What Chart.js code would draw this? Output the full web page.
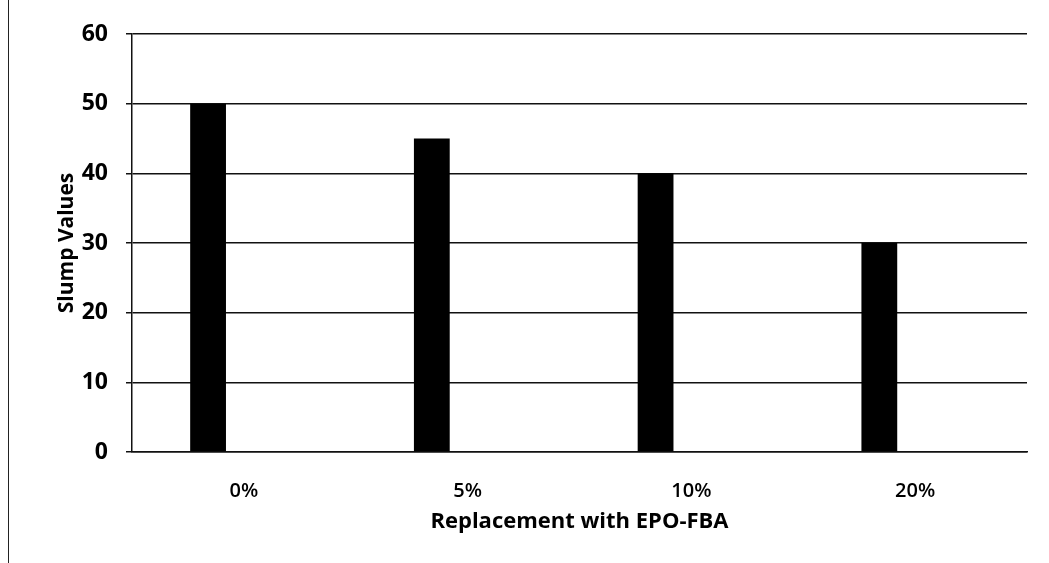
<!DOCTYPE html>
<html>
<head>
<meta charset="utf-8">
<script src="https://cdn.jsdelivr.net/npm/chart.js@4"></script>
<style>
    html, body { margin: 0; padding: 0; background: #fff; }
    #wrap { position: relative; width: 1049px; height: 563px; }
    #wrap::before { content: ''; position: absolute; left: 8px; top: 0; width: 1px; height: 563px; background: #222; }
</style>
</head>
<body>
<div id="wrap"><canvas id="slumpChart" width="1049" height="563"></canvas></div>
<script>
// Slump values per replacement level
const categories = ['0%', '5%', '10%', '20%'];
const slumpValues = [50, 45, 40, 30];
const emptySeries = [null, null, null, null]; // second (empty) series, shifts bars left like the original
const yTicks = [0, 10, 20, 30, 40, 50, 60];

const fontFamily = '"Open Sans", "Liberation Sans", sans-serif';

const ctx = document.getElementById('slumpChart').getContext('2d');
const chart = new Chart(ctx, {
    type: 'bar',
    data: {
        labels: categories,
        datasets: [{
            label: 'Slump',
            data: slumpValues,
            backgroundColor: '#000',
            borderWidth: 0,
            barPercentage: 0.5,
            categoryPercentage: 0.64
        }, {
            label: '',
            data: emptySeries,
            backgroundColor: '#000',
            barPercentage: 0.5,
            categoryPercentage: 0.64
        }]
    },
    options: {
        responsive: false,
        animation: false,
        layout: { padding: { left: 10, right: 22, top: 34, bottom: 0 } },
        plugins: {
            legend: { display: false },
            tooltip: { enabled: false }
        },
        scales: {
            x: {
                grid: { display: false, drawTicks: false },
                border: { display: true, color: '#111', width: 1.5 },
                ticks: {
                    color: '#000',
                    padding: 27,
                    font: { family: fontFamily, size: 20, weight: '600' }
                },
                title: {
                    display: true,
                    text: 'Replacement with EPO-FBA',
                    color: '#000',
                    padding: { top: 0, bottom: 28 },
                    font: { family: fontFamily, size: 22, weight: 'bold' }
                },
                afterFit: (scale) => { scale.height = 111; }
            },
            y: {
                min: 0,
                max: 60,
                afterBuildTicks: (scale) => { scale.ticks = yTicks.map(v => ({ value: v })); },
                grid: { color: '#111', lineWidth: 1.5, tickLength: 6 },
                border: { display: true, color: '#111', width: 1.5 },
                ticks: {
                    color: '#000',
                    padding: 18,
                    font: { family: fontFamily, size: 23, weight: 'bold' }
                },
                title: {
                    display: true,
                    text: 'Slump Values',
                    color: '#000',
                    padding: { top: 44, bottom: 0 },
                    font: { family: fontFamily, size: 21, weight: 'bold' }
                },
                afterFit: (scale) => { scale.width = 122; }
            }
        }
    }
});
</script>
</body>
</html>
